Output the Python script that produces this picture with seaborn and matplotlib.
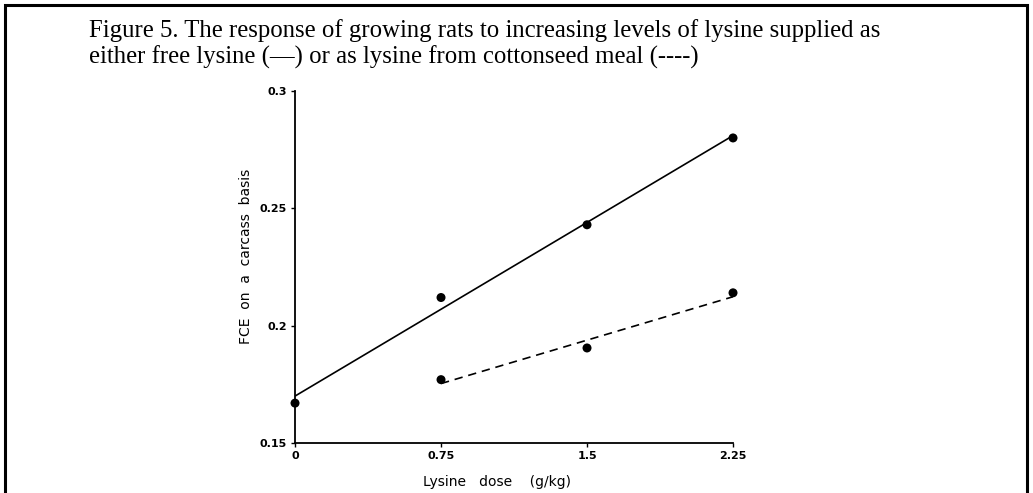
import matplotlib
matplotlib.use("Agg")
import matplotlib.pyplot as plt
from matplotlib.patches import Rectangle
import seaborn as sns
import pandas as pd

# Lysine dose (g/kg) and feed conversion efficiency on a carcass basis
free_dose = [0.0, 0.75, 1.5, 2.25]
free_fce = [0.167, 0.212, 0.243, 0.280]
csm_dose = [0.75, 1.5, 2.25]
csm_fce = [0.177, 0.1905, 0.214]

x_ticks = [0, 0.75, 1.5, 2.25]
x_ticklabels = ["0", "0.75", "1.5", "2.25"]
y_ticks = [0.15, 0.2, 0.25, 0.3]
y_ticklabels = ["0.15", "0.2", "0.25", "0.3"]

title = ("Figure 5. The response of growing rats to increasing levels of lysine supplied as\n"
         "either free lysine (\u2014) or as lysine from cottonseed meal (----)")

sns.set_theme(style="ticks")
plt.rcParams["font.family"] = ["DejaVu Sans"]

free = pd.DataFrame({"dose": free_dose, "fce": free_fce})
csm = pd.DataFrame({"dose": csm_dose, "fce": csm_fce})

fig = plt.figure(figsize=(10.33, 4.93), dpi=100)
ax = fig.add_axes([0.2856, 0.1014, 0.424, 0.714])

point_kws = dict(s=42, color="black", alpha=1, clip_on=False, zorder=3, edgecolors="none")
sns.regplot(data=free, x="dose", y="fce", ci=None, truncate=True, ax=ax,
            scatter_kws=point_kws,
            line_kws=dict(color="black", lw=1.2, solid_capstyle="butt"))
sns.regplot(data=csm, x="dose", y="fce", ci=None, truncate=True, ax=ax,
            scatter_kws=point_kws,
            line_kws=dict(color="black", lw=1.2, ls=(0, (5, 3.5))))

ax.set_xlim(0, 2.25)
ax.set_ylim(0.15, 0.3)
ax.set_xticks(x_ticks)
ax.set_xticklabels(x_ticklabels)
ax.set_yticks(y_ticks)
ax.set_yticklabels(y_ticklabels)
ax.tick_params(axis="both", labelsize=8, length=3, width=1.0, colors="black", pad=3)
for lab in ax.get_xticklabels() + ax.get_yticklabels():
    lab.set_fontweight("bold")
sns.despine(ax=ax)
for side in ("left", "bottom"):
    ax.spines[side].set_linewidth(1.3)
    ax.spines[side].set_color("black")

ax.set_xlabel("Lysine   dose    (g/kg)", fontsize=10, color="black")
ax.set_ylabel("FCE  on  a  carcass  basis", fontsize=10, color="black")
ax.xaxis.set_label_coords(0.46, -0.09)
ax.yaxis.set_label_coords(-0.097, 0.53)

fig.text(89 / 1033, 1 - 64 / 493, title, fontsize=17.8, family="Liberation Serif",
         ha="left", va="baseline", linespacing=1.2, color="black")

# Boxed frame around the figure
fig.patches.append(Rectangle((5 / 1033, -0.05), (1027 - 5) / 1033, 1.05 - 5 / 493,
                             transform=fig.transFigure, fill=False,
                             edgecolor="black", lw=2.2))

fig.savefig("out.png", dpi=100, facecolor="white")
